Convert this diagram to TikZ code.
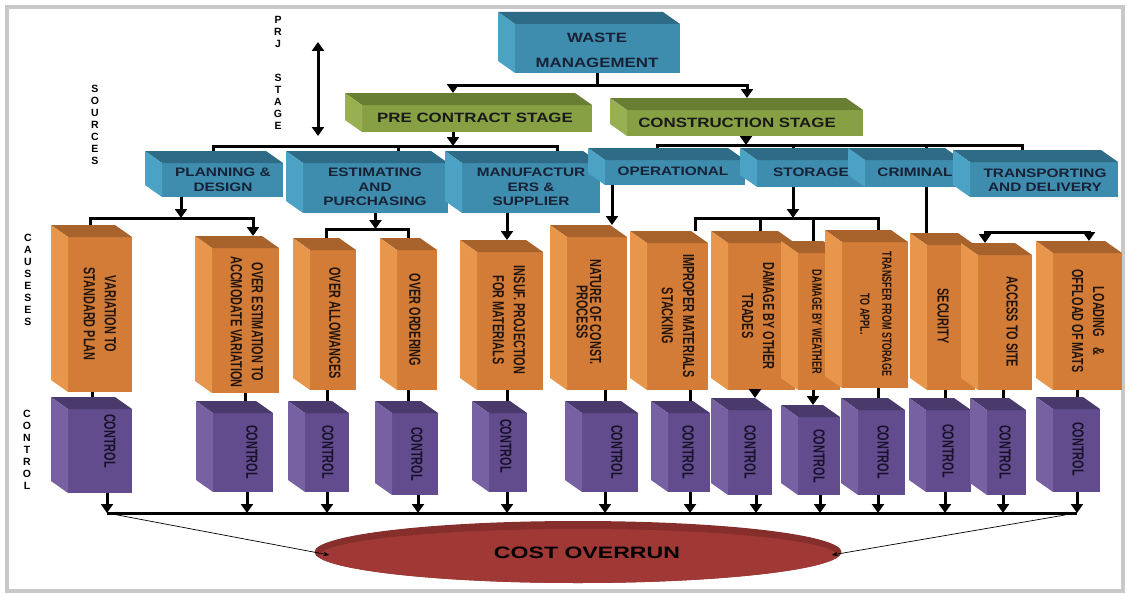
\documentclass[tikz,border=0pt]{standalone}
\usepackage{fontspec}
\setmainfont{Liberation Sans}
\newfontfamily\widefont[FakeStretch=1.25]{Liberation Sans}
\newfontfamily\costfont[FakeStretch=1.4]{Liberation Sans}
\newfontfamily\narrowfont[FakeStretch=0.68]{Liberation Sans}
\usetikzlibrary{arrows.meta, shapes.geometric}

\definecolor{bluefront}{HTML}{3F8DAE}
\definecolor{bluetopc}{HTML}{2E6B86}
\definecolor{bluesidec}{HTML}{4BA2C4}
\definecolor{greenfront}{HTML}{87A044}
\definecolor{greentopc}{HTML}{687E32}
\definecolor{greensidec}{HTML}{98B052}
\definecolor{orangefront}{HTML}{D27C38}
\definecolor{orangetopc}{HTML}{A8622C}
\definecolor{orangesidec}{HTML}{E8964C}
\definecolor{purplefront}{HTML}{624C8D}
\definecolor{purpletopc}{HTML}{4A3A6B}
\definecolor{purplesidec}{HTML}{7761A3}
\definecolor{costdark}{HTML}{852E2C}
\definecolor{costred}{HTML}{A03936}
\definecolor{framegray}{HTML}{C8C8C8}
\definecolor{bluetext}{HTML}{172236}
\definecolor{orangetext}{HTML}{21140C}
\definecolor{purpletext}{HTML}{17122A}

% front face as a node, top and left faces behind it
\newcommand{\cube}[6]{%
  \node[#2box, anchor=north west, minimum width={(#5-#3)*1pt}, minimum height={(#6-#4)*1pt}] (#1) at (#3,#4) {};
  \fill[#2top] (#1.north west) -- ([shift={(-17,-12)}]#1.north west) -- ([shift={(-17,-12)}]#1.north east) -- (#1.north east) -- cycle;
  \fill[#2side] (#1.north west) -- ([shift={(-17,-12)}]#1.north west) -- ([shift={(-17,-12)}]#1.south west) -- (#1.south west) -- cycle;
}

\begin{document}
\begin{tikzpicture}[x=1pt, y=-1pt,
    bluebox/.style={fill=bluefront, inner sep=0pt, outer sep=0pt},
    bluetop/.style={fill=bluetopc}, blueside/.style={fill=bluesidec},
    greenbox/.style={fill=greenfront, inner sep=0pt, outer sep=0pt},
    greentop/.style={fill=greentopc}, greenside/.style={fill=greensidec},
    orangebox/.style={fill=orangefront, inner sep=0pt, outer sep=0pt},
    orangetop/.style={fill=orangetopc}, orangeside/.style={fill=orangesidec},
    purplebox/.style={fill=purplefront, inner sep=0pt, outer sep=0pt},
    purpletop/.style={fill=purpletopc}, purpleside/.style={fill=purplesidec},
    wtext/.style={font={\widefont\bfseries\fontsize{13.5}{25}\selectfont}, text=bluetext, align=center, inner sep=0pt},
    gtext/.style={font={\widefont\bfseries\fontsize{13.5}{16}\selectfont}, text=black!90, align=center, inner sep=0pt},
    btext/.style={font={\widefont\bfseries\fontsize{12.3}{14.5}\selectfont}, text=bluetext, align=center, inner sep=0pt},
    otext/.style={font={\narrowfont\bfseries\fontsize{16}{21}\selectfont}, text=orangetext, align=center, rotate=-90, inner sep=0pt},
    ptext/.style={otext, text=purpletext},
    stext/.style={font={\bfseries\fontsize{10.5}{12}\selectfont}, align=center, inner sep=0pt},
    bar/.style={line width=3pt},
    arr/.style={bar, -{Triangle[width=12pt,length=9pt]}},
    thinarr/.style={line width=0.7pt, -{Stealth[length=6pt,width=4.5pt]}}]

    \useasboundingbox (0,0) rectangle (1127,594);
    \draw[framegray, line width=3.5pt] (7,7) rectangle (1123,591);

    % side labels
    \node[stext] (prj) at (278,72.5) {P\\R\\J\\[22pt]S\\T\\A\\G\\E};
    \node[stext] (src) at (95,124.5) {S\\O\\U\\R\\C\\E\\S};
    \node[stext] (cau) at (28,280) {C\\A\\U\\S\\E\\S\\E\\S};
    \node[stext] (ctl) at (27,450) {C\\O\\N\\T\\R\\O\\L};
    \coordinate (prjt) at (318,42);
    \coordinate (prjb) at (318,136);
    \draw[bar, {Triangle[width=12pt,length=9pt]}-{Triangle[width=12pt,length=9pt]}] (prjt) -- (prjb);

    % top
    \cube{wm}{blue}{515}{24}{680}{73}
    \node[wtext] (wm-t) at (597,50) {WASTE\\MANAGEMENT};

    % stages
    \cube{pre}{green}{362}{105}{592}{132}
    \node[gtext] (pre-t) at (475,118) {PRE CONTRACT STAGE};
    \cube{con}{green}{627}{110}{863}{136}
    \node[gtext] (con-t) at (737,123) {CONSTRUCTION STAGE};

    % sources
    \cube{plan}{blue}{162}{163}{283}{197}
    \node[btext] (plan-t) at (223,180) {PLANNING \&\\DESIGN};
    \cube{est}{blue}{303}{163}{448}{213}
    \node[btext] (est-t) at (375,187) {ESTIMATING\\AND\\PURCHASING};
    \cube{man}{blue}{462}{163}{600}{213}
    \node[btext] (man-t) at (531,187) {MANUFACTUR\\ERS \&\\SUPPLIER};
    \cube{ope}{blue}{605}{160}{745}{185}
    \node[btext] (ope-t) at (673,171) {OPERATIONAL};
    \cube{sto}{blue}{757}{160}{865}{187}
    \node[btext] (sto-t) at (811,172) {STORAGE};
    \cube{cri}{blue}{865}{160}{962}{187}
    \node[btext] (cri-t) at (915,172) {CRIMINAL};
    \cube{tra}{blue}{970}{162}{1118}{197}
    \node[btext] (tra-t) at (1045,180) {TRANSPORTING\\AND DELIVERY};

    % causes
    \cube{c1}{orange}{68}{237}{132}{392}
    \node[otext] (c1-t) at (100,314) {VARIATION TO\\STANDARD PLAN};
    \cube{c2}{orange}{212}{248}{279}{393}
    \node[otext] (c2-t) at (247,322) {OVER ESTIMATION TO\\ACCMODATE VARIATION};
    \cube{c3}{orange}{310}{250}{356}{390}
    \node[otext] (c3-t) at (335,323) {OVER ALLOWANCES};
    \cube{c4}{orange}{397}{250}{437}{390}
    \node[otext] (c4-t) at (415,320) {OVER ORDERING};
    \cube{c5}{orange}{477}{252}{543}{390}
    \node[otext] (c5-t) at (509,320) {INSUF. PROJECTION\\FOR MATERIALS};
    \cube{c6}{orange}{567}{237}{627}{390}
    \node[otext, font={\narrowfont\bfseries\fontsize{16}{13.5}\selectfont}] (c6-t) at (589,312) {NATURE OF CONST.\\PROCESS};
    \cube{c7}{orange}{647}{243}{708}{390}
    \node[otext] (c7-t) at (678,316) {IMPROPER MATERIALS\\STACKING};
    \cube{c8}{orange}{728}{243}{795}{390}
    \node[otext] (c8-t) at (758,316) {DAMAGE BY OTHER\\TRADES};
    \cube{c9}{orange}{798}{253}{840}{390}
    \node[otext, font={\narrowfont\bfseries\fontsize{13.5}{16}\selectfont}] (c9-t) at (817,322) {DAMAGE BY WEATHER};
    \cube{c10}{orange}{842}{242}{908}{388}
    \node[otext, font={\narrowfont\bfseries\fontsize{13.2}{22}\selectfont}] (c10-t) at (876,314) {TRANSFER FROM STORAGE\\TO APPL.};
    \cube{c11}{orange}{927}{245}{975}{390}
    \node[otext] (c11-t) at (943,316) {SECURITY};
    \cube{c12}{orange}{978}{255}{1032}{390}
    \node[otext] (c12-t) at (1012,322) {ACCESS TO SITE};
    \cube{c13}{orange}{1053}{253}{1122}{390}
    \node[otext] (c13-t) at (1088,321) {LOADING\hspace{10pt}\&\\OFFLOAD OF MATS};

    % controls
    \cube{k1}{purple}{68}{409}{132}{493}
    \node[ptext] (k1-t) at (110,441) {CONTROL};
    \cube{k2}{purple}{213}{413}{273}{492}
    \node[ptext] (k2-t) at (252,452) {CONTROL};
    \cube{k3}{purple}{305}{413}{349}{492}
    \node[ptext] (k3-t) at (328,452) {CONTROL};
    \cube{k4}{purple}{392}{413}{438}{495}
    \node[ptext] (k4-t) at (417,454) {CONTROL};
    \cube{k5}{purple}{489}{413}{527}{492}
    \node[ptext] (k5-t) at (506,446) {CONTROL};
    \cube{k6}{purple}{582}{413}{638}{492}
    \node[ptext] (k6-t) at (617,452) {CONTROL};
    \cube{k7}{purple}{668}{413}{710}{492}
    \node[ptext] (k7-t) at (688,452) {CONTROL};
    \cube{k8}{purple}{728}{410}{772}{495}
    \node[ptext] (k8-t) at (750,452) {CONTROL};
    \cube{k9}{purple}{798}{417}{840}{495}
    \node[ptext] (k9-t) at (819,456) {CONTROL};
    \cube{k10}{purple}{858}{410}{905}{495}
    \node[ptext] (k10-t) at (883,452) {CONTROL};
    \cube{k11}{purple}{926}{410}{971}{492}
    \node[ptext] (k11-t) at (948,451) {CONTROL};
    \cube{k12}{purple}{987}{410}{1026}{495}
    \node[ptext] (k12-t) at (1005,452) {CONTROL};
    \cube{k13}{purple}{1053}{409}{1100}{492}
    \node[ptext] (k13-t) at (1078,449) {CONTROL};

    % cost overrun
    \node[ellipse, fill=costdark, minimum width=527pt, minimum height=62pt, inner sep=0pt,
          path picture={\fill[costred] ([yshift=-4pt]path picture bounding box.center) ellipse [x radius=259pt, y radius=27pt];}] (cost) at (578,552) {};
    \node[font={\costfont\bfseries\fontsize{16.5}{18}\selectfont}, inner sep=0pt] (cost-t) at (587,553) {COST OVERRUN};

    % management to stages
    \draw[bar] (wm.south) -- ++(0,12) coordinate (wmbus);
    \draw[arr] (wmbus) -| ([xshift=-24pt,yshift=12pt]pre.north);
    \draw[arr] (wmbus) -| ([xshift=2pt,yshift=12pt]con.north);

    % stages to sources
    \draw[arr] ([xshift=-24pt]pre.south) -- ++(0,14) coordinate (prebus);
    \draw[bar] (prebus) -| ([xshift=-9.5pt,yshift=12pt]plan.north);
    \draw[bar] (prebus) -| ([xshift=22.5pt,yshift=12pt]est.north);
    \draw[bar] (prebus) -| ([xshift=26pt,yshift=12pt]man.north);
    \draw[arr] ([xshift=1pt]con.south) -- ++(0,9) coordinate (conbus);
    \draw[bar] (conbus) -| ([xshift=-18pt,yshift=12pt]ope.north);
    \draw[bar] (conbus) -| ([xshift=-18pt,yshift=12pt]sto.north);
    \draw[bar] (conbus) -| ([xshift=12.5pt,yshift=12pt]cri.north);
    \draw[bar] (conbus) -| ([xshift=-22pt,yshift=12pt]tra.north);

    % sources to causes
    \draw[arr] ([xshift=-41.5pt]plan.south) -- ++(0,21) coordinate (planbus);
    \draw[bar] (planbus) -| ([xshift=-10pt,yshift=12pt]c1.north);
    \draw[arr] (planbus) -| ([xshift=7.5pt,yshift=12pt]c2.north);
    \draw[arr] (est.south) -- ++(0,16) coordinate (estbus);
    \draw[bar] (estbus) -| ([xshift=-7pt,yshift=12pt]c3.north);
    \draw[bar] (estbus) -| ([xshift=-9pt,yshift=12pt]c4.north);
    \draw[arr] ([xshift=-24pt]man.south) -- ([xshift=-3pt,yshift=12pt]c5.north);
    \draw[arr] ([xshift=-63pt]ope.south) -- ([xshift=15pt,yshift=12pt]c6.north);
    \draw[arr] ([xshift=-18pt]sto.south) -- ++(0,31) coordinate (stobus);
    \draw[bar] (stobus) -| ([xshift=17.5pt,yshift=12pt]c7.north);
    \draw[bar] (stobus) -| ([xshift=-1.5pt,yshift=12pt]c8.north);
    \draw[bar] (stobus) -| ([xshift=-6pt,yshift=12pt]c9.north);
    \draw[bar] (stobus) -| ([xshift=3pt,yshift=12pt]c10.north);
    \draw[bar] ([xshift=12.5pt]cri.south) -- ([xshift=-25pt,yshift=12pt]c11.north);
    \draw[bar, {Triangle[width=12pt,length=9pt]}-{Triangle[width=12pt,length=9pt]}]
        ([xshift=-20pt,yshift=12pt]c12.north) -- ++(0,-11) -| ([xshift=1.5pt,yshift=12pt]c13.north);

    % causes to controls
    \draw[bar] ([xshift=-8pt]c1.south) -- ([xshift=-8pt,yshift=12pt]k1.north);
    \draw[bar] ([xshift=-0.5pt]c2.south) -- ([xshift=2pt,yshift=12pt]k2.north);
    \draw[bar] ([xshift=-6pt]c3.south) -- ([yshift=12pt]k3.north);
    \draw[bar] ([xshift=-9pt]c4.south) -- ([xshift=-7pt,yshift=12pt]k4.north);
    \draw[bar] ([xshift=-3pt]c5.south) -- ([xshift=-1pt,yshift=12pt]k5.north);
    \draw[bar] ([xshift=8pt]c6.south) -- ([xshift=-5pt,yshift=12pt]k6.north);
    \draw[bar] ([xshift=12.5pt]c7.south) -- ([xshift=1pt,yshift=12pt]k7.north);
    \draw[arr] ([xshift=-6.5pt]c8.south) -- ([xshift=5pt,yshift=12pt]k8.north);
    \draw[arr] ([xshift=-6pt]c9.south) -- ([xshift=-6pt,yshift=12pt]k9.north);
    \draw[bar] ([xshift=3pt]c10.south) -- ([xshift=-3.5pt,yshift=12pt]k10.north);
    \draw[bar] ([xshift=-6pt]c11.south) -- ([xshift=-3.5pt,yshift=12pt]k11.north);
    \draw[bar] ([xshift=-2pt]c12.south) -- ([xshift=-3.5pt,yshift=12pt]k12.north);
    \draw[bar] ([xshift=-10.5pt]c13.south) -- ([xshift=0.5pt,yshift=12pt]k13.north);

    % controls to cost overrun
    \coordinate (busl) at (107,513);
    \coordinate (busr) at (1077,513);
    \draw[bar] (busl) -- (busr);
    \draw[arr] (k1.south -| 107,0) -- (busl -| 107,0);
    \draw[arr] (k2.south -| 247,0) -- (busl -| 247,0);
    \draw[arr] (k3.south -| 327,0) -- (busl -| 327,0);
    \draw[arr] (k4.south -| 418,0) -- (busl -| 418,0);
    \draw[arr] (k5.south -| 507,0) -- (busl -| 507,0);
    \draw[arr] (k6.south -| 605,0) -- (busl -| 605,0);
    \draw[arr] (k7.south -| 690,0) -- (busl -| 690,0);
    \draw[arr] (k8.south -| 756,0) -- (busl -| 756,0);
    \draw[arr] (k9.south -| 820,0) -- (busl -| 820,0);
    \draw[arr] (k10.south -| 878,0) -- (busl -| 878,0);
    \draw[arr] (k11.south -| 945,0) -- (busl -| 945,0);
    \draw[arr] (k12.south -| 1003,0) -- (busl -| 1003,0);
    \draw[arr] (k13.south -| 1077,0) -- (busl -| 1077,0);
    \draw[thinarr] (busl) -- ([xshift=15pt,yshift=-3pt]cost.west);
    \draw[thinarr] ([xshift=-12pt,yshift=-2pt]busr) -- ([xshift=-10pt,yshift=-3pt]cost.east);
\end{tikzpicture}
\end{document}
